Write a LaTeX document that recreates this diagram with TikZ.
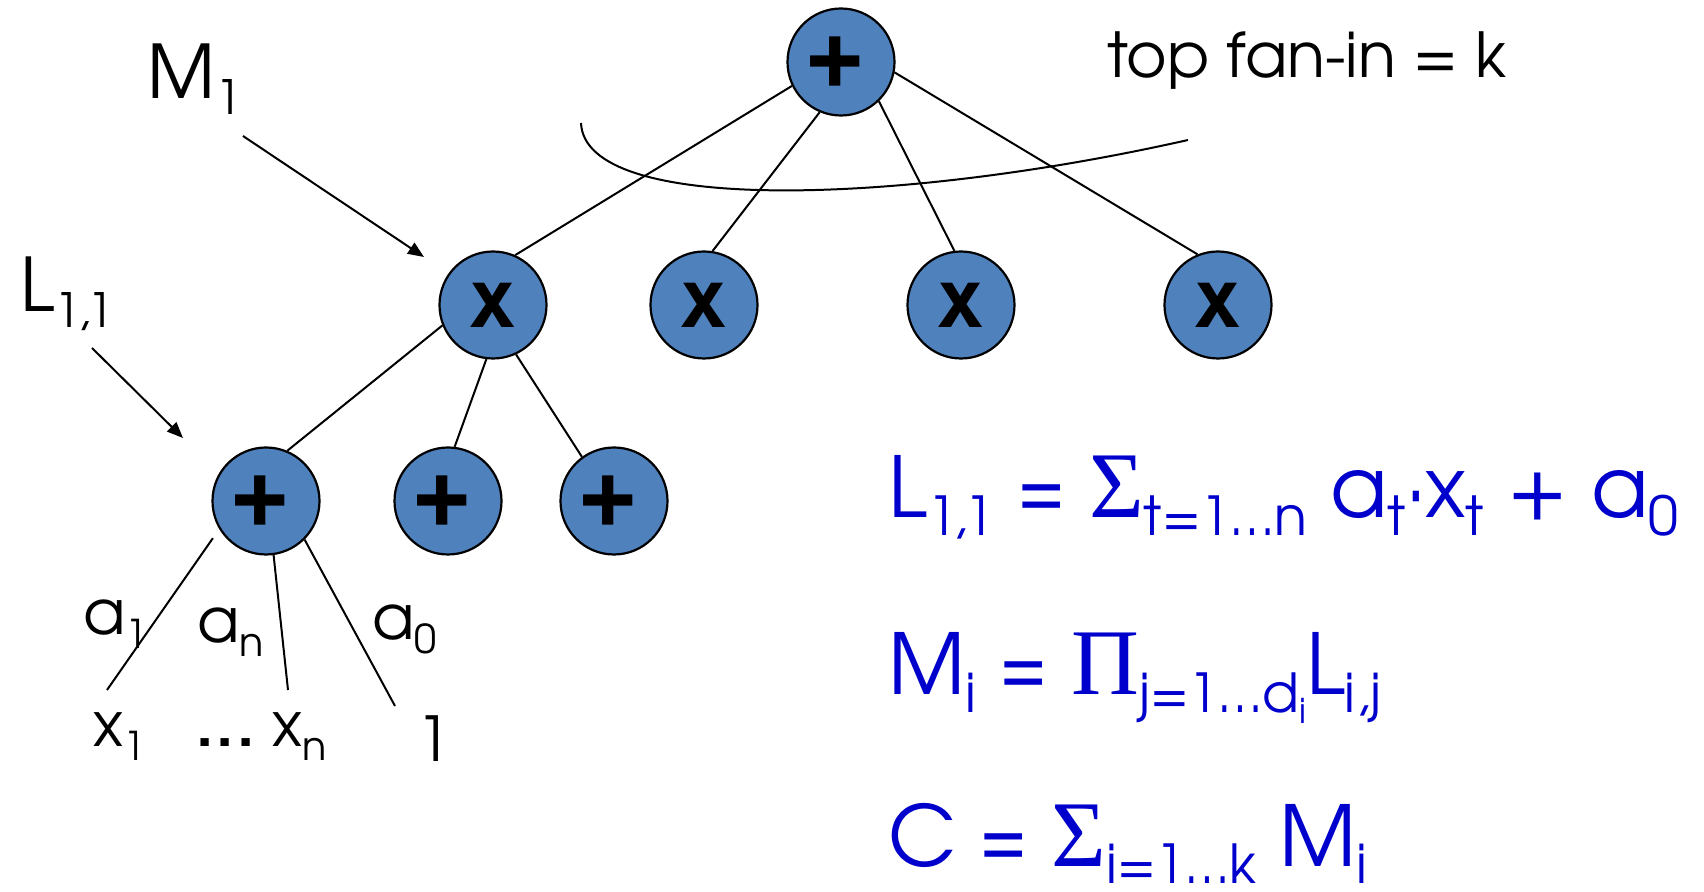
\documentclass[tikz,border=0pt]{standalone}
\usepackage{fontspec}
\setmainfont{texgyreadventor}[Extension=.otf,UprightFont=*-regular,BoldFont=*-bold]
\newfontfamily\grk{Liberation Serif}
\usetikzlibrary{arrows.meta}
\definecolor{nodeblue}{RGB}{79,129,189}
\definecolor{formblue}{RGB}{0,0,204}
\newcommand\sbs[1]{\raisebox{-0.21em}{\scalebox{0.64}{#1}}}
\newcommand\grkbig[1]{{\grk\fontsize{47}{47}\selectfont #1}}
\newcommand\eqs{\scalebox{0.8}[1]{=}}
\tikzset{
  gate/.style={circle, draw=black, line width=1.1pt, fill=nodeblue, minimum size=53.5pt, inner sep=0pt, font=\fontsize{44}{44}\selectfont\bfseries},
  timesgate/.style={gate, font=\fontsize{40}{40}\selectfont\bfseries},
  wire/.style={line width=1pt},
  lbl/.style={anchor=base west, inner sep=0pt, font=\fontsize{31}{31}\selectfont},
  biglbl/.style={lbl, font=\fontsize{37}{37}\selectfont},
  formula/.style={anchor=base west, inner sep=0pt, text=formblue, font=\fontsize{42}{42}\selectfont},
  pointer/.style={line width=1pt, -{Triangle[length=8pt,width=6.5pt]}},
}
\begin{document}
\begin{tikzpicture}[x=0.5pt,y=-0.5pt]
\useasboundingbox (0,0) rectangle (1704,892);
% gates
\node[gate] (top) at (841,62) {\raisebox{2pt}{\hspace*{-6pt}+}};
\node[timesgate] (m1) at (493,305) {x};
\node[timesgate] (m2) at (704,305) {x};
\node[timesgate] (m3) at (961,305) {x};
\node[timesgate] (m4) at (1218,305) {x};
\node[gate] (s1) at (266,501) {\raisebox{2pt}{\hspace*{-6pt}+}};
\node[gate] (s2) at (448,501) {\raisebox{2pt}{\hspace*{-6pt}+}};
\node[gate] (s3) at (614,501) {\raisebox{2pt}{\hspace*{-6pt}+}};
% wires
\draw[wire] (top.206.6) -- (m1.66.5);
\draw[wire] (top.247) -- (m2.81);
\draw[wire] (top.314) -- (m3.97.5);
\draw[wire] (top.349) -- (m4.112.5);
\draw[wire] (m1.202) -- (s1.67);
\draw[wire] (m1.263) -- (s2.83);
\draw[wire] (m1.295) -- (s3.126);
% leaves
\coordinate (e1) at (107,690);
\coordinate (e2) at (288,690);
\coordinate (e3) at (395,706);
\draw[wire, shorten <=5.5pt] (s1.211.4) -- (e1);
\draw[wire] (s1.278.4) -- (e2);
\draw[wire] (s1.315) -- (e3);
% fan-in curve
\draw[wire] (581,123) .. controls (585,215) and (900,205) .. (1188,140);
% pointers
\coordinate (mt) at (243,136);
\coordinate (mh) at (424,257);
\coordinate (lt) at (92,348);
\coordinate (lh) at (183,438);
\draw[pointer] (mt) -- (mh);
\draw[pointer] (lt) -- (lh);
% labels
\node[biglbl] (lM) at (147,99) {M\sbs{1}};
\node[biglbl] (lL) at (20,312) {L\sbs{1,1}};
\node[lbl] (fanin) at (1107,78) {top fan-in = k};
\node[lbl] (wa1) at (83,635) {a\sbs{1}};
\node[lbl] (wan) at (197,643) {a\sbs{n}};
\node[lbl] (wa0) at (372,640) {a\sbs{0}};
\node[lbl] (vx1) at (93,747) {x\sbs{1}};
\node[lbl] (vxn) at (196,747) {{\bfseries .\hspace{1.5pt}.\hspace{1.5pt}.}\hspace{9pt}x\sbs{n}};
\node[lbl] (v1) at (416,762) {1};
% formulas
\node[formula] (f1) at (888,518) {L\sbs{1,1} \eqs{} \grkbig{Σ}\sbs{t=1…n} a\sbs{t}·x\sbs{t} + a\sbs{0}};
\node[formula] (f2) at (888,695) {M\sbs{i} \eqs{} \grkbig{Π}\sbs{j=1…d\sbs{i}}L\sbs{i,j}};
\node[formula] (f3) at (888,866) {C \eqs{} \grkbig{Σ}\sbs{i=1…k} M\sbs{i}};
\end{tikzpicture}
\end{document}
